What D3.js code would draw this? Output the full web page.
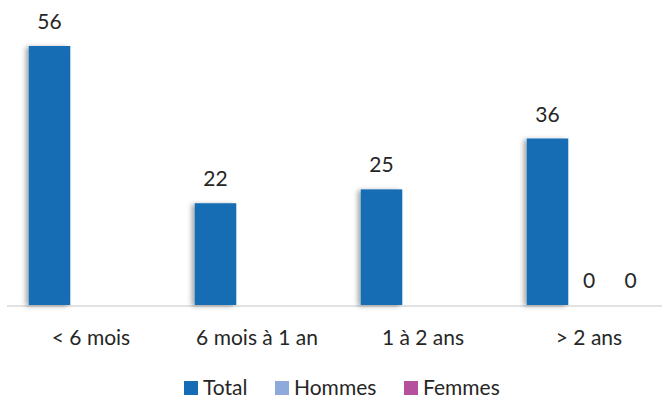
<!DOCTYPE html>
<html><head><meta charset="utf-8">
<script src="https://cdn.jsdelivr.net/npm/d3@7"></script>
<style>html,body{margin:0;padding:0;background:#fff;}svg{display:block;font-family:Lato,"Open Sans",sans-serif;}</style>
</head><body>
<svg id="c" width="662" height="400"></svg>
<script>
const categories = ["< 6 mois", "6 mois à 1 an", "1 à 2 ans", "> 2 ans"];
const seriesNames = ["Total", "Hommes", "Femmes"];
const totalValues = [56, 22, 25, 36];
const hommesValues = [null, null, null, 0];
const femmesValues = [null, null, null, 0];
const colors = ["#146db4", "#8eaadb", "#b5509d"];

const series = [totalValues, hommesValues, femmesValues];
const svg = d3.select("#c");
const baseY = 305;
const FS = 21;

const x0 = d3.scaleBand().domain(categories).range([8, 672]).paddingInner(0.25).paddingOuter(0.125);
const x1 = d3.scaleBand().domain(seriesNames).range([0, x0.bandwidth()]);
const y = d3.scaleLinear().domain([0, 56]).range([baseY, 46]);

const defs = svg.append("defs");
const f = defs.append("filter").attr("id", "sh").attr("x", "-30%").attr("y", "-5%").attr("width", "160%").attr("height", "110%");
f.append("feGaussianBlur").attr("in", "SourceAlpha").attr("stdDeviation", 2.5);
f.append("feOffset").attr("dx", -3).attr("dy", 1).attr("result", "b");
f.append("feComponentTransfer").append("feFuncA").attr("type", "linear").attr("slope", 0.35);
const m = f.append("feMerge"); m.append("feMergeNode"); m.append("feMergeNode").attr("in", "SourceGraphic");

// axis line
svg.append("line").attr("x1", 7).attr("x2", 662).attr("y1", baseY + 1).attr("y2", baseY + 1)
  .attr("stroke", "#d9d9d9").attr("stroke-width", 1.5);

const data = [];
categories.forEach((c, i) => seriesNames.forEach((s, j) => {
  const v = series[j][i];
  if (v !== null) data.push({c, s, v, j});
}));

svg.append("g").selectAll("rect").data(data.filter(d => d.v > 0)).join("rect")
  .attr("x", d => x0(d.c) + x1(d.s)).attr("width", x1.bandwidth())
  .attr("y", d => y(d.v)).attr("height", d => baseY - y(d.v))
  .attr("fill", d => colors[d.j]).attr("filter", "url(#sh)");

svg.append("g").selectAll("text").data(data).join("text")
  .attr("x", d => x0(d.c) + x1(d.s) + x1.bandwidth() / 2)
  .attr("y", d => y(d.v) - 17)
  .attr("text-anchor", "middle").attr("font-size", FS).attr("fill", "#262626")
  .text(d => d.v);

// category labels
svg.append("g").selectAll("text").data(categories).join("text")
  .attr("x", d => x0(d) + x0.bandwidth() / 2).attr("y", 345).attr("text-anchor", "middle")
  .attr("font-size", FS).attr("fill", "#262626").text(d => d);

// legend
const legX = [184, 275, 404];
const lg = svg.append("g").selectAll("g").data(seriesNames).join("g")
  .attr("transform", (d, i) => `translate(${legX[i]},0)`);
lg.append("rect").attr("x", 0).attr("y", 381).attr("width", 14).attr("height", 14).attr("fill", (d, i) => colors[i]);
lg.append("text").attr("x", 19).attr("y", 395).attr("font-size", FS).attr("fill", "#262626").text(d => d);
</script>
</body></html>
